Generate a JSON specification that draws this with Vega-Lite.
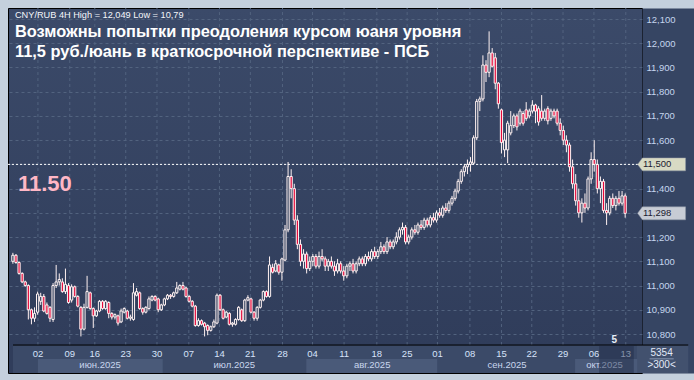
{
  "$schema": "https://vega.github.io/schema/vega-lite/v6.json",
  "background": "#c4d0dd",
  "autosize": {"type": "none"},
  "padding": {"left": 8, "top": 8, "right": 52, "bottom": 7},
  "width": 634,
  "height": 365,
  "view": {"fill": {"gradient": "linear", "x1": 0, "y1": 0, "x2": 0, "y2": 1, "stops": [{"offset": 0, "color": "#3b4a69"}, {"offset": 0.92, "color": "#303d5b"}, {"offset": 1, "color": "#303d5b"}]}, "stroke": "#000000", "strokeWidth": 1},
  "config": {"font": "Liberation Sans"},
  "resolve": {"axis": {"y": "independent"}},
  "datasets": {
    "candles": [
      {"i":0,"o":11.1,"h":11.135,"l":11.09,"c":11.125},{"i":1,"o":11.125,"h":11.13,"l":11.09,"c":11.095},{"i":2,"o":11.095,"h":11.1,"l":11.045,"c":11.05},{"i":3,"o":11.05,"h":11.055,"l":11.01,"c":11.015},{"i":4,"o":11.015,"h":11.02,"l":10.995,"c":11.0},{"i":5,"o":11.0,"h":11.005,"l":10.86,"c":10.9},{"i":6,"o":10.9,"h":10.905,"l":10.84,"c":10.865},{"i":7,"o":10.865,"h":10.91,"l":10.85,"c":10.885},{"i":8,"o":10.89,"h":10.975,"l":10.88,"c":10.965},{"i":9,"o":10.935,"h":10.97,"l":10.92,"c":10.955},
      {"i":10,"o":10.955,"h":10.965,"l":10.89,"c":10.895},{"i":11,"o":10.92,"h":10.93,"l":10.88,"c":10.885},{"i":12,"o":10.91,"h":10.915,"l":10.85,"c":10.865},{"i":13,"o":10.86,"h":11.01,"l":10.85,"c":11.0},{"i":14,"o":11.0,"h":11.085,"l":10.99,"c":11.015},{"i":15,"o":11.015,"h":11.05,"l":11.0,"c":11.025},{"i":16,"o":11.015,"h":11.03,"l":10.97,"c":10.975},{"i":17,"o":10.975,"h":11.07,"l":10.965,"c":11.005},{"i":18,"o":11.0,"h":11.01,"l":10.925,"c":10.93},{"i":19,"o":10.94,"h":11.005,"l":10.93,"c":10.995},
      {"i":20,"o":10.995,"h":11.0,"l":10.95,"c":10.955},{"i":21,"o":10.955,"h":10.96,"l":10.91,"c":10.915},{"i":22,"o":10.91,"h":10.915,"l":10.79,"c":10.82},{"i":23,"o":10.82,"h":10.925,"l":10.815,"c":10.91},{"i":24,"o":10.91,"h":11.04,"l":10.905,"c":10.975},{"i":25,"o":10.97,"h":10.975,"l":10.9,"c":10.905},{"i":26,"o":10.905,"h":10.91,"l":10.825,"c":10.875},{"i":27,"o":10.875,"h":10.9,"l":10.87,"c":10.895},{"i":28,"o":10.895,"h":10.94,"l":10.89,"c":10.935},{"i":29,"o":10.935,"h":10.94,"l":10.9,"c":10.905},
      {"i":30,"o":10.905,"h":10.94,"l":10.9,"c":10.935},{"i":31,"o":10.93,"h":10.935,"l":10.865,"c":10.885},{"i":32,"o":10.885,"h":10.89,"l":10.86,"c":10.87},{"i":33,"o":10.87,"h":10.885,"l":10.86,"c":10.88},{"i":34,"o":10.875,"h":10.88,"l":10.835,"c":10.845},{"i":35,"o":10.85,"h":10.905,"l":10.845,"c":10.895},{"i":36,"o":10.89,"h":10.91,"l":10.885,"c":10.905},{"i":37,"o":10.895,"h":10.9,"l":10.86,"c":10.865},{"i":38,"o":10.865,"h":10.88,"l":10.855,"c":10.87},{"i":39,"o":10.86,"h":11.01,"l":10.855,"c":10.97},
      {"i":40,"o":10.96,"h":10.99,"l":10.955,"c":10.975},{"i":41,"o":10.97,"h":10.975,"l":10.9,"c":10.905},{"i":42,"o":10.905,"h":10.91,"l":10.88,"c":10.89},{"i":43,"o":10.89,"h":10.915,"l":10.885,"c":10.91},{"i":44,"o":10.905,"h":10.955,"l":10.9,"c":10.945},{"i":45,"o":10.94,"h":10.96,"l":10.935,"c":10.955},{"i":46,"o":10.955,"h":10.96,"l":10.935,"c":10.94},{"i":47,"o":10.945,"h":10.95,"l":10.89,"c":10.9},{"i":48,"o":10.9,"h":10.925,"l":10.895,"c":10.92},{"i":49,"o":10.92,"h":10.95,"l":10.915,"c":10.945},
      {"i":50,"o":10.945,"h":10.965,"l":10.94,"c":10.96},{"i":51,"o":10.96,"h":10.965,"l":10.945,"c":10.955},{"i":52,"o":10.955,"h":10.975,"l":10.95,"c":10.97},{"i":53,"o":10.97,"h":11.015,"l":10.965,"c":10.99},{"i":54,"o":10.985,"h":11.005,"l":10.98,"c":11.0},{"i":55,"o":11.0,"h":11.015,"l":10.98,"c":10.985},{"i":56,"o":10.99,"h":10.995,"l":10.95,"c":10.955},{"i":57,"o":10.955,"h":10.96,"l":10.93,"c":10.935},{"i":58,"o":10.935,"h":10.94,"l":10.91,"c":10.915},{"i":59,"o":10.915,"h":10.92,"l":10.83,"c":10.835},
      {"i":60,"o":10.835,"h":10.865,"l":10.83,"c":10.855},{"i":61,"o":10.855,"h":10.86,"l":10.835,"c":10.84},{"i":62,"o":10.845,"h":10.85,"l":10.79,"c":10.83},{"i":63,"o":10.835,"h":10.84,"l":10.795,"c":10.815},{"i":64,"o":10.815,"h":10.835,"l":10.81,"c":10.83},{"i":65,"o":10.83,"h":10.86,"l":10.825,"c":10.85},{"i":66,"o":10.845,"h":10.967,"l":10.84,"c":10.96},{"i":67,"o":10.96,"h":10.965,"l":10.895,"c":10.9},{"i":68,"o":10.9,"h":10.905,"l":10.86,"c":10.865},{"i":69,"o":10.87,"h":10.895,"l":10.865,"c":10.89},
      {"i":70,"o":10.885,"h":10.89,"l":10.835,"c":10.84},{"i":71,"o":10.84,"h":10.85,"l":10.83,"c":10.845},{"i":72,"o":10.84,"h":10.865,"l":10.835,"c":10.86},{"i":73,"o":10.86,"h":10.915,"l":10.855,"c":10.91},{"i":74,"o":10.9,"h":10.905,"l":10.85,"c":10.855},{"i":75,"o":10.855,"h":10.945,"l":10.85,"c":10.94},{"i":76,"o":10.94,"h":10.96,"l":10.935,"c":10.95},{"i":77,"o":10.945,"h":10.95,"l":10.885,"c":10.89},{"i":78,"o":10.89,"h":10.895,"l":10.855,"c":10.865},{"i":79,"o":10.865,"h":10.915,"l":10.855,"c":10.91},
      {"i":80,"o":10.91,"h":10.945,"l":10.905,"c":10.94},{"i":81,"o":10.94,"h":10.98,"l":10.935,"c":10.975},{"i":82,"o":10.975,"h":10.98,"l":10.95,"c":10.955},{"i":83,"o":10.955,"h":11.12,"l":10.95,"c":11.085},{"i":84,"o":11.075,"h":11.09,"l":11.05,"c":11.055},{"i":85,"o":11.06,"h":11.105,"l":11.055,"c":11.09},{"i":86,"o":11.085,"h":11.09,"l":11.045,"c":11.055},{"i":87,"o":11.055,"h":11.115,"l":11.02,"c":11.11},{"i":88,"o":11.105,"h":11.25,"l":11.1,"c":11.23},{"i":89,"o":11.23,"h":11.51,"l":11.22,"c":11.45},
      {"i":90,"o":11.45,"h":11.48,"l":11.36,"c":11.4},{"i":91,"o":11.4,"h":11.42,"l":11.25,"c":11.27},{"i":92,"o":11.27,"h":11.29,"l":11.15,"c":11.17},{"i":93,"o":11.17,"h":11.19,"l":11.08,"c":11.1},{"i":94,"o":11.1,"h":11.15,"l":11.07,"c":11.13},{"i":95,"o":11.13,"h":11.14,"l":11.05,"c":11.07},{"i":96,"o":11.07,"h":11.12,"l":11.06,"c":11.1},{"i":97,"o":11.1,"h":11.13,"l":11.08,"c":11.12},{"i":98,"o":11.12,"h":11.13,"l":11.07,"c":11.08},{"i":99,"o":11.08,"h":11.14,"l":11.07,"c":11.12},
      {"i":100,"o":11.12,"h":11.15,"l":11.1,"c":11.11},{"i":101,"o":11.11,"h":11.12,"l":11.06,"c":11.08},{"i":102,"o":11.08,"h":11.11,"l":11.06,"c":11.1},{"i":103,"o":11.1,"h":11.12,"l":11.07,"c":11.08},{"i":104,"o":11.08,"h":11.1,"l":11.04,"c":11.06},{"i":105,"o":11.06,"h":11.11,"l":11.05,"c":11.09},{"i":106,"o":11.09,"h":11.1,"l":11.05,"c":11.06},{"i":107,"o":11.06,"h":11.08,"l":11.02,"c":11.04},{"i":108,"o":11.04,"h":11.09,"l":11.03,"c":11.08},{"i":109,"o":11.08,"h":11.1,"l":11.06,"c":11.09},
      {"i":110,"o":11.09,"h":11.11,"l":11.05,"c":11.06},{"i":111,"o":11.06,"h":11.1,"l":11.05,"c":11.09},{"i":112,"o":11.09,"h":11.12,"l":11.08,"c":11.11},{"i":113,"o":11.11,"h":11.12,"l":11.08,"c":11.09},{"i":114,"o":11.09,"h":11.13,"l":11.08,"c":11.12},{"i":115,"o":11.12,"h":11.14,"l":11.1,"c":11.11},{"i":116,"o":11.11,"h":11.15,"l":11.1,"c":11.14},{"i":117,"o":11.14,"h":11.16,"l":11.11,"c":11.12},{"i":118,"o":11.12,"h":11.15,"l":11.11,"c":11.14},{"i":119,"o":11.14,"h":11.18,"l":11.13,"c":11.16},
      {"i":120,"o":11.16,"h":11.17,"l":11.13,"c":11.14},{"i":121,"o":11.14,"h":11.2,"l":11.13,"c":11.18},{"i":122,"o":11.18,"h":11.19,"l":11.15,"c":11.16},{"i":123,"o":11.16,"h":11.19,"l":11.15,"c":11.18},{"i":124,"o":11.18,"h":11.22,"l":11.17,"c":11.2},{"i":125,"o":11.2,"h":11.24,"l":11.19,"c":11.23},{"i":126,"o":11.23,"h":11.26,"l":11.21,"c":11.24},{"i":127,"o":11.24,"h":11.25,"l":11.17,"c":11.18},{"i":128,"o":11.18,"h":11.21,"l":11.17,"c":11.2},{"i":129,"o":11.2,"h":11.24,"l":11.19,"c":11.23},
      {"i":130,"o":11.23,"h":11.25,"l":11.21,"c":11.22},{"i":131,"o":11.22,"h":11.26,"l":11.21,"c":11.25},{"i":132,"o":11.25,"h":11.27,"l":11.23,"c":11.24},{"i":133,"o":11.24,"h":11.28,"l":11.23,"c":11.27},{"i":134,"o":11.27,"h":11.28,"l":11.24,"c":11.25},{"i":135,"o":11.25,"h":11.29,"l":11.24,"c":11.28},{"i":136,"o":11.28,"h":11.3,"l":11.26,"c":11.27},{"i":137,"o":11.27,"h":11.31,"l":11.26,"c":11.3},{"i":138,"o":11.3,"h":11.32,"l":11.28,"c":11.29},{"i":139,"o":11.29,"h":11.33,"l":11.28,"c":11.32},
      {"i":140,"o":11.32,"h":11.34,"l":11.3,"c":11.31},{"i":141,"o":11.31,"h":11.35,"l":11.3,"c":11.34},{"i":142,"o":11.34,"h":11.37,"l":11.33,"c":11.36},{"i":143,"o":11.36,"h":11.4,"l":11.35,"c":11.39},{"i":144,"o":11.39,"h":11.44,"l":11.38,"c":11.43},{"i":145,"o":11.43,"h":11.48,"l":11.42,"c":11.47},{"i":146,"o":11.47,"h":11.5,"l":11.45,"c":11.49},{"i":147,"o":11.49,"h":11.52,"l":11.46,"c":11.5},{"i":148,"o":11.5,"h":11.53,"l":11.47,"c":11.51},{"i":149,"o":11.505,"h":11.62,"l":11.5,"c":11.61},
      {"i":150,"o":11.61,"h":11.77,"l":11.6,"c":11.76},{"i":151,"o":11.76,"h":11.78,"l":11.72,"c":11.77},{"i":152,"o":11.77,"h":11.95,"l":11.76,"c":11.91},{"i":153,"o":11.91,"h":11.93,"l":11.84,"c":11.88},{"i":154,"o":11.88,"h":12.049,"l":11.86,"c":11.96},{"i":155,"o":11.96,"h":11.98,"l":11.9,"c":11.905},{"i":156,"o":11.94,"h":11.96,"l":11.81,"c":11.835},{"i":157,"o":11.835,"h":11.84,"l":11.73,"c":11.75},{"i":158,"o":11.725,"h":11.73,"l":11.545,"c":11.59},{"i":159,"o":11.56,"h":11.63,"l":11.53,"c":11.6},
      {"i":160,"o":11.56,"h":11.68,"l":11.505,"c":11.67},{"i":161,"o":11.63,"h":11.72,"l":11.62,"c":11.66},{"i":162,"o":11.66,"h":11.71,"l":11.65,"c":11.7},{"i":163,"o":11.7,"h":11.71,"l":11.64,"c":11.655},{"i":164,"o":11.67,"h":11.73,"l":11.66,"c":11.72},{"i":165,"o":11.71,"h":11.72,"l":11.66,"c":11.67},{"i":166,"o":11.725,"h":11.757,"l":11.68,"c":11.69},{"i":167,"o":11.7,"h":11.73,"l":11.69,"c":11.72},{"i":168,"o":11.72,"h":11.765,"l":11.71,"c":11.745},{"i":169,"o":11.745,"h":11.75,"l":11.67,"c":11.72},
      {"i":170,"o":11.73,"h":11.74,"l":11.66,"c":11.675},{"i":171,"o":11.72,"h":11.786,"l":11.68,"c":11.69},{"i":172,"o":11.69,"h":11.73,"l":11.68,"c":11.72},{"i":173,"o":11.73,"h":11.74,"l":11.665,"c":11.68},{"i":174,"o":11.69,"h":11.73,"l":11.68,"c":11.72},{"i":175,"o":11.72,"h":11.73,"l":11.69,"c":11.7},{"i":176,"o":11.72,"h":11.73,"l":11.66,"c":11.67},{"i":177,"o":11.67,"h":11.69,"l":11.62,"c":11.64},{"i":178,"o":11.64,"h":11.66,"l":11.58,"c":11.6},{"i":179,"o":11.6,"h":11.62,"l":11.55,"c":11.58},
      {"i":180,"o":11.58,"h":11.59,"l":11.47,"c":11.49},{"i":181,"o":11.49,"h":11.52,"l":11.4,"c":11.42},{"i":182,"o":11.42,"h":11.46,"l":11.33,"c":11.35},{"i":183,"o":11.35,"h":11.4,"l":11.28,"c":11.3},{"i":184,"o":11.3,"h":11.36,"l":11.26,"c":11.34},{"i":185,"o":11.34,"h":11.38,"l":11.3,"c":11.32},{"i":186,"o":11.32,"h":11.45,"l":11.31,"c":11.44},{"i":187,"o":11.44,"h":11.55,"l":11.42,"c":11.52},{"i":188,"o":11.52,"h":11.6,"l":11.47,"c":11.5},{"i":189,"o":11.5,"h":11.52,"l":11.38,"c":11.4},
      {"i":190,"o":11.4,"h":11.45,"l":11.34,"c":11.43},{"i":191,"o":11.43,"h":11.44,"l":11.3,"c":11.31},{"i":192,"o":11.31,"h":11.34,"l":11.25,"c":11.3},{"i":193,"o":11.3,"h":11.37,"l":11.29,"c":11.36},{"i":194,"o":11.36,"h":11.38,"l":11.32,"c":11.33},{"i":195,"o":11.33,"h":11.37,"l":11.31,"c":11.36},{"i":196,"o":11.36,"h":11.39,"l":11.33,"c":11.34},{"i":197,"o":11.34,"h":11.39,"l":11.33,"c":11.37},{"i":198,"o":11.37,"h":11.38,"l":11.28,"c":11.298}
    ],
    "weeks": [
      {"t":8.1,"lab":"02"},{"t":18.4,"lab":"09"},{"t":26.5,"lab":"16"},{"t":36.5,"lab":"23"},{"t":46.6,"lab":"30"},{"t":56.9,"lab":"07"},{"t":66.8,"lab":"14"},{"t":76.8,"lab":"21"},{"t":87.2,"lab":"28"},{"t":96.9,"lab":"04"},{"t":107.1,"lab":"11"},{"t":117.7,"lab":"18"},{"t":127.5,"lab":"25"},{"t":137.3,"lab":"01"},{"t":147.8,"lab":"08"},{"t":158.0,"lab":"15"},{"t":167.8,"lab":"22"},{"t":177.9,"lab":"29"},{"t":187.9,"lab":"06"},{"t":198.2,"lab":"13"}
    ],
    "months": [
      {"m":"июн.2025","s":8.1,"e":48.5,"c":28.2},{"m":"июл.2025","s":48.5,"e":94.9,"c":71.6},{"m":"авг.2025","s":94.9,"e":137.3,"c":116.2},{"m":"сен.2025","s":137.3,"e":181.8,"c":159.8},{"m":"окт.2025","s":181.8,"e":201.9,"c":191.3}
    ],
    "tags": [
      {"v":11.5,"lab":"11,500"},{"v":11.298,"lab":"11,298"}
    ],
    "stats": [
      {"v":10.7228,"lab":"5354"},{"v":10.674,"lab":">300<"}
    ]
  },
  "data": {"name": "candles"},
  "layer": [
    {
      "data": {"values": [{"a": 1}]},
      "mark": {"type": "rect", "fill": "#3b4a68"},
      "encoding": {
        "x": {"datum": 0.04, "type": "quantitative", "scale": {"domain": [0.04, 201.83], "nice": false, "zero": false}, "axis": null},
        "x2": {"datum": 218.4},
        "y": {"datum": 10.7545, "type": "quantitative", "scale": {"domain": [10.6391, 12.1454], "nice": false, "zero": false}, "axis": null},
        "y2": {"datum": 10.6391}
      }
    },
    {
      "data": {"values": [{"a": 1}]},
      "mark": {"type": "rect", "fill": "#42516e"},
      "encoding": {
        "x": {"datum": 201.83, "type": "quantitative", "axis": null},
        "x2": {"datum": 218.4},
        "y": {"datum": 10.7545, "type": "quantitative", "axis": null},
        "y2": {"datum": 10.6391}
      }
    },
    {
      "data": {"name": "months"},
      "mark": {"type": "rect"},
      "encoding": {
        "x": {"field": "s", "type": "quantitative", "axis": null},
        "x2": {"field": "e"},
        "y": {"datum": 10.6969, "type": "quantitative", "axis": null},
        "y2": {"datum": 10.6391},
        "fill": {"field": "m", "type": "nominal", "scale": {"domain": ["июн.2025", "июл.2025", "авг.2025", "сен.2025", "окт.2025"], "range": ["#4a5a79", "#3b4a68", "#4a5a79", "#3b4a68", "#4a5a79"]}, "legend": null}
      }
    },
    {
      "data": {"name": "weeks"},
      "mark": {"type": "rule", "stroke": "#52637f", "strokeDash": [3, 3], "strokeWidth": 1},
      "encoding": {
        "x": {"field": "t", "type": "quantitative", "axis": null},
        "y": {"datum": 10.7545, "type": "quantitative", "axis": null},
        "y2": {"datum": 12.1454}
      }
    },
    {
      "mark": {"type": "rule", "stroke": "#fff2f2", "strokeWidth": 1},
      "encoding": {
        "x": {"field": "i", "type": "quantitative", "axis": null},
        "y": {
          "field": "l", "type": "quantitative",
          "axis": {
            "orient": "right",
            "values": [10.8, 10.9, 11.0, 11.1, 11.2, 11.3, 11.4, 11.5, 11.6, 11.7, 11.8, 11.9, 12.0, 12.1],
            "title": null, "labels": false,
            "grid": true, "gridColor": "#52637f", "gridDash": [3, 3], "gridWidth": 1,
            "ticks": false, "tickSize": 0,
            "domain": true, "domainColor": "#364563", "domainWidth": 52, "offset": 26
          }
        },
        "y2": {"field": "h"}
      }
    },
    {
      "mark": {"type": "bar", "size": 2.2, "stroke": "#fff2f2", "strokeWidth": 1},
      "encoding": {
        "x": {"field": "i", "type": "quantitative", "axis": null},
        "y": {
          "field": "o", "type": "quantitative",
          "axis": {
            "orient": "right",
            "values": [10.8, 10.9, 11.0, 11.1, 11.2, 11.4, 11.6, 11.7, 11.8, 11.9, 12.0, 12.1],
            "labelExpr": "replace(format(datum.value, '.3f'), '.', ',')",
            "title": null, "grid": false, "domain": false,
            "ticks": false, "tickSize": 0,
            "labelPadding": 4, "labelAlign": "left", "labelBaseline": "middle",
            "labelColor": "#c5d5ee", "labelFont": "Liberation Sans", "labelFontSize": 9.5,
            "labelOverlap": false, "labelFlush": false, "labelBound": false
          }
        },
        "y2": {"field": "c"},
        "fill": {"condition": {"test": "datum.c >= datum.o", "value": "#35435f"}, "value": "#e5083a"}
      }
    },
    {
      "data": {"values": [{"v": 11.5}]},
      "mark": {"type": "rule", "stroke": "#ffffff", "strokeDash": [2, 2], "strokeWidth": 1},
      "encoding": {"y": {"field": "v", "type": "quantitative", "axis": null}}
    },
    {
      "data": {"values": [{"a": 1}]},
      "mark": {"type": "rule", "stroke": "#000000", "strokeWidth": 1},
      "encoding": {
        "x": {"datum": 0.04, "type": "quantitative", "axis": null},
        "x2": {"datum": 218.4},
        "y": {"datum": 10.7545, "type": "quantitative", "axis": null}
      }
    },
    {
      "data": {"values": [{"txt": "CNY/RUB 4H High = 12,049 Low = 10,79"}]},
      "mark": {"type": "text", "align": "left", "baseline": "alphabetic", "font": "Liberation Sans", "fontSize": 9.2, "color": "#f4f6fa"},
      "encoding": {"x": {"datum": 0.68, "type": "quantitative", "axis": null}, "y": {"datum": 12.1041, "type": "quantitative", "axis": null}, "text": {"field": "txt"}}
    },
    {
      "data": {"values": [{"a": 1}]},
      "mark": {"type": "text", "align": "left", "baseline": "alphabetic", "font": "Liberation Sans", "fontSize": 16.4, "fontWeight": "bold", "lineHeight": 19.4, "color": "#ffffff",
               "text": ["Возможны попытки преодоления курсом юаня уровня", "11,5 руб./юань в краткосрочной перспективе - ПСБ"]},
      "encoding": {"x": {"datum": 0.68, "type": "quantitative", "axis": null}, "y": {"datum": 12.0245, "type": "quantitative", "axis": null}}
    },
    {
      "data": {"values": [{"txt": "11.50"}]},
      "mark": {"type": "text", "align": "left", "baseline": "alphabetic", "font": "Liberation Sans", "fontSize": 22, "fontWeight": "bold", "color": "#ffb7c6"},
      "encoding": {"x": {"datum": 1.63, "type": "quantitative", "axis": null}, "y": {"datum": 11.392, "type": "quantitative", "axis": null}, "text": {"field": "txt"}}
    },
    {
      "data": {"values": [{"txt": "5"}]},
      "mark": {"type": "text", "align": "center", "baseline": "middle", "font": "Liberation Sans", "fontSize": 10, "fontWeight": "bold", "color": "#e8eef8"},
      "encoding": {"x": {"datum": 194.5, "type": "quantitative", "axis": null}, "y": {"datum": 10.775, "type": "quantitative", "axis": null}, "text": {"field": "txt"}}
    },
    {
      "data": {"name": "tags"},
      "mark": {"type": "point", "filled": true, "opacity": 1, "size": 2304, "shape": "M-1,0L-0.8,-0.27L1,-0.27L1,0.27L-0.8,0.27Z", "stroke": "#8e96a4", "strokeWidth": 0.5},
      "encoding": {
        "x": {"datum": 209.78, "type": "quantitative", "axis": null},
        "y": {"field": "v", "type": "quantitative", "axis": null},
        "fill": {"condition": {"test": "datum.v == 11.5", "value": "#d8dac4"}, "value": "#c7ccd5"}
      }
    },
    {
      "data": {"name": "tags"},
      "mark": {"type": "text", "align": "left", "baseline": "middle", "font": "Liberation Sans", "fontSize": 9.5, "color": "#1b2030"},
      "encoding": {
        "x": {"datum": 203.73, "type": "quantitative", "axis": null},
        "y": {"field": "v", "type": "quantitative", "axis": null},
        "text": {"field": "lab"}
      }
    },
    {
      "data": {"name": "weeks"},
      "mark": {"type": "text", "align": "center", "baseline": "middle", "font": "Liberation Sans", "fontSize": 9.5, "color": "#d6e2fa"},
      "encoding": {
        "x": {"field": "t", "type": "quantitative", "axis": null},
        "y": {"datum": 10.7174, "type": "quantitative", "axis": null},
        "text": {"field": "lab"}
      }
    },
    {
      "data": {"name": "months"},
      "mark": {"type": "text", "align": "center", "baseline": "middle", "font": "Liberation Sans", "fontSize": 9.5, "color": "#c9d6ee"},
      "encoding": {
        "x": {"field": "c", "type": "quantitative", "axis": null},
        "y": {"datum": 10.674, "type": "quantitative", "axis": null},
        "text": {"field": "m"}
      }
    },
    {
      "data": {"name": "stats"},
      "mark": {"type": "text", "align": "center", "baseline": "middle", "font": "Liberation Sans", "fontSize": 10, "color": "#e2eaf8"},
      "encoding": {
        "x": {"datum": 209.78, "type": "quantitative", "axis": null},
        "y": {"field": "v", "type": "quantitative", "axis": null},
        "text": {"field": "lab"}
      }
    },
    {
      "data": {"values": [{"a": 1}]},
      "mark": {"type": "rule", "stroke": "#8a98b2", "strokeWidth": 1},
      "encoding": {
        "x": {"datum": 205.9, "type": "quantitative", "axis": null},
        "x2": {"datum": 213.7},
        "y": {"datum": 10.6975, "type": "quantitative", "axis": null}
      }
    },
    {
      "data": {"values": [{"a": 1}]},
      "mark": {"type": "rect", "fill": "#1f2b45", "opacity": 0.45},
      "encoding": {
        "x": {"datum": 189.6, "type": "quantitative", "axis": null},
        "x2": {"datum": 200.8},
        "y": {"datum": 10.7525, "type": "quantitative", "axis": null},
        "y2": {"datum": 10.6391}
      }
    }
  ]
}
